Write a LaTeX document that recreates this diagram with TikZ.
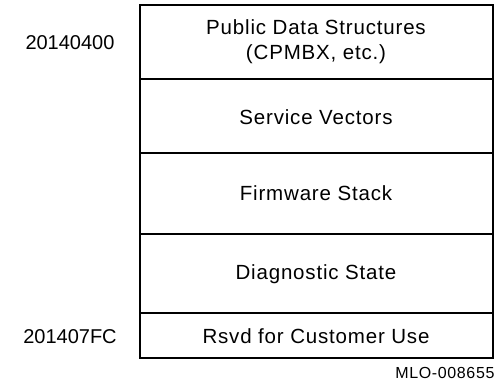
\documentclass[tikz,border=0pt]{standalone}
\usepackage{fontspec}
\setmainfont{Liberation Sans}
\newfontfamily\wide[LetterSpace=4]{Liberation Sans}
\usetikzlibrary{positioning}

\begin{document}
\begin{tikzpicture}[x=1pt,y=-1pt,font=\wide\fontsize{20.5}{25}\selectfont]
\useasboundingbox (0,0) rectangle (496,389);
\draw[line width=2.6pt] (140,5) rectangle (493,358);
\draw[line width=1.1pt] (140,79)--(493,79) (140,153)--(493,153)
(140,234)--(493,234) (140,313)--(493,313);
\node[align=center] (pub) at (316,42) {Public Data Structures\\(CPMBX, etc.)};
\node (vec) at (316,117) {Service Vectors};
\node (stk) at (316,193) {Firmware Stack};
\node (diag) at (316,274) {Diagnostic State};
\node (cust) at (316,336) {Rsvd for Customer Use};
\node[font=\rmfamily\fontsize{20}{24}\selectfont] (lo) at (70,43) {20140400};
\node[font=\rmfamily\fontsize{20}{24}\selectfont] (hi) at (70,337) {201407FC};
\node[anchor=east,font=\wide\fontsize{16}{18}\selectfont] (mlo) at (498,373) {MLO-008655};
\end{tikzpicture}
\end{document}
